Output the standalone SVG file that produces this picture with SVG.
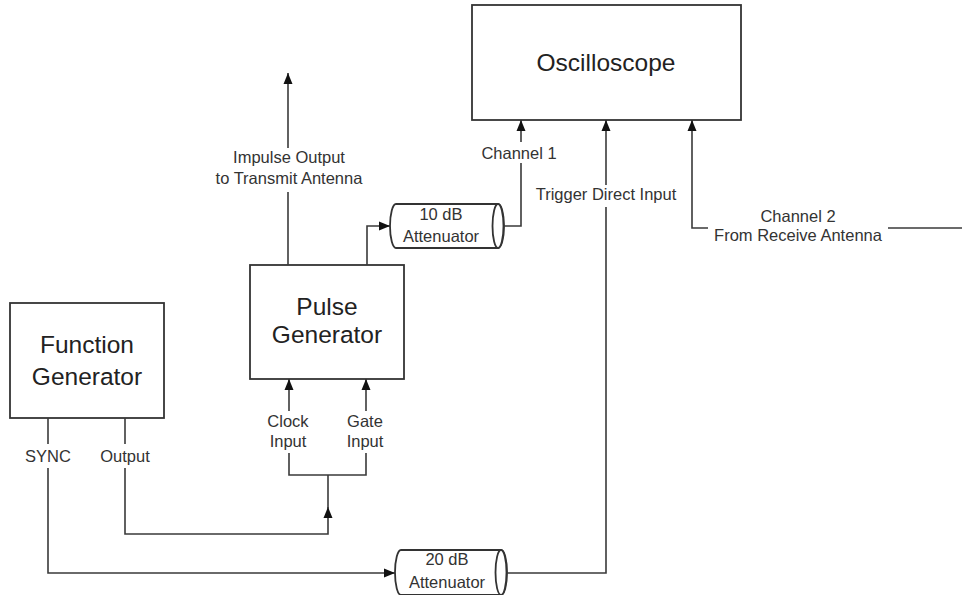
<svg xmlns="http://www.w3.org/2000/svg" width="962" height="595" viewBox="0 0 962 595">
<style>
.box{fill:#fff;stroke:#333;stroke-width:1.8}
.ln{fill:none;stroke:#3a3a3a;stroke-width:1.6}
.title{font-family:"Liberation Sans",Arial,sans-serif;font-size:24.5px;fill:#222;text-anchor:middle}
.lbl{font-family:"Liberation Sans",Arial,sans-serif;font-size:16.5px;fill:#333;text-anchor:middle}
</style>
<defs>
<marker id="ah" markerUnits="userSpaceOnUse" markerWidth="12" markerHeight="10" refX="11" refY="5" orient="auto">
<path d="M0,0.5 L11,5 L0,9.5 z" fill="#111"/>
</marker>
</defs>
<rect width="962" height="595" fill="#fff"/>

<g id="oscilloscope">
<rect class="box" x="472" y="5" width="269" height="115"/>
<text class="title" x="606" y="71">Oscilloscope</text>
</g>

<g id="pulse-generator">
<rect class="box" x="250" y="265" width="154" height="114"/>
<text class="title" x="327" y="315">Pulse</text>
<text class="title" x="327" y="343">Generator</text>
</g>

<g id="function-generator">
<rect class="box" x="10" y="303" width="154" height="115"/>
<text class="title" x="87" y="353">Function</text>
<text class="title" x="87" y="385">Generator</text>
</g>

<g id="att10">
<path class="box" d="M396,204 H498 A6,22 0 0 1 498,248 H396 A6,22 0 0 1 396,204 Z"/>
<ellipse class="box" cx="498" cy="226" rx="5.5" ry="22"/>
<text class="lbl" x="441" y="220">10 dB</text>
<text class="lbl" x="441" y="242">Attenuator</text>
</g>

<g id="att20">
<path class="box" d="M401,550 H501 A6,22.5 0 0 1 501,595 H401 A6,22.5 0 0 1 401,550 Z"/>
<ellipse class="box" cx="501" cy="572.5" rx="5.5" ry="22.5"/>
<text class="lbl" x="447" y="565">20 dB</text>
<text class="lbl" x="447" y="588">Attenuator</text>
</g>

<g id="connectors">
<path class="ln" d="M288,265 V192"/>
<path class="ln" d="M288,148 V73" marker-end="url(#ah)"/>
<path class="ln" d="M367,265 V226 H390" marker-end="url(#ah)"/>
<path class="ln" d="M503.5,226 H521 V163"/>
<path class="ln" d="M521,142 V120" marker-end="url(#ah)"/>
<path class="ln" d="M507,573 H606 V207"/>
<path class="ln" d="M606,185 V120" marker-end="url(#ah)"/>
<path class="ln" d="M962,228 H888"/>
<path class="ln" d="M708,228 H692 V120" marker-end="url(#ah)"/>
<path class="ln" d="M289,411 V379" marker-end="url(#ah)"/>
<path class="ln" d="M366,411 V379" marker-end="url(#ah)"/>
<path class="ln" d="M289,453 V475 H366 V453"/>
<path class="ln" d="M48,418 V444"/>
<path class="ln" d="M48,468 V573 H395" marker-end="url(#ah)"/>
<path class="ln" d="M125,418 V444"/>
<path class="ln" d="M125,468 V534 H328 V507" marker-end="url(#ah)"/>
<path class="ln" d="M328,508 V475"/>
<text class="lbl" x="289" y="163">Impulse Output</text>
<text class="lbl" x="289" y="184">to Transmit Antenna</text>
<text class="lbl" x="519" y="159">Channel 1</text>
<text class="lbl" x="606" y="200">Trigger Direct Input</text>
<text class="lbl" x="798" y="222">Channel 2</text>
<text class="lbl" x="798" y="241">From Receive Antenna</text>
<text class="lbl" x="288" y="427">Clock</text>
<text class="lbl" x="288" y="447">Input</text>
<text class="lbl" x="365" y="427">Gate</text>
<text class="lbl" x="365" y="447">Input</text>
<text class="lbl" x="48" y="462">SYNC</text>
<text class="lbl" x="125" y="462">Output</text>
</g>
</svg>
